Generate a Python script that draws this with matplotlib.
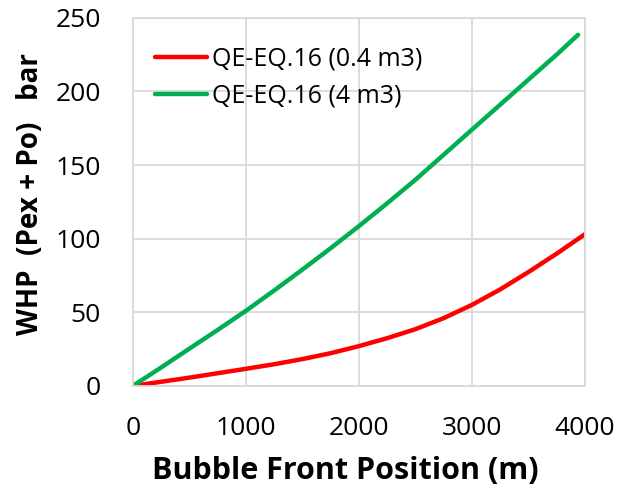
import numpy as np
import matplotlib.pyplot as plt

plt.rcParams['font.family'] = ['Open Sans', 'DejaVu Sans']

# Valores
x_red = [0, 250, 500, 750, 1000, 1250, 1500, 1750, 2000, 2250, 2500, 2750,
         3000, 3250, 3500, 3750, 4000]
y_red = [0, 2.8, 5.6, 8.6, 11.6, 14.7, 18.2, 22.2, 27, 32.4, 38.5, 46,
         55, 65.5, 77.3, 89.8, 103]
x_green = [0, 250, 500, 750, 1000, 1250, 1500, 1750, 2000, 2250, 2500, 2750,
           3000, 3250, 3500, 3750, 3940]
y_green = [0, 12.5, 25.3, 38, 51, 64.8, 79, 93.5, 108.5, 124, 140, 157,
           174, 191, 208, 225, 238.5]

xticks = [0, 1000, 2000, 3000, 4000]
yticks = [0, 50, 100, 150, 200, 250]

fig = plt.figure(figsize=(6.42, 4.96), dpi=100)
ax = fig.add_axes([0.207, 0.222, 0.704, 0.742])

ax.plot(x_red, y_red, color='#ff0000', linewidth=3.2, label='QE-EQ.16 (0.4 m3)',
        solid_capstyle='round')
ax.plot(x_green, y_green, color='#00b050', linewidth=3.2, label='QE-EQ.16 (4 m3)',
        solid_capstyle='round')

ax.set_xlim(0, 4000)
ax.set_ylim(0, 250)
ax.set_xticks(xticks)
ax.set_yticks(yticks)
ax.grid(True, color='#d9d9d9', linewidth=1.3)
ax.set_axisbelow(True)
for s in ax.spines.values():
    s.set_color('#d9d9d9')
    s.set_linewidth(1.3)
ax.tick_params(length=0, labelsize=19)
ax.tick_params(axis='y', pad=23)
ax.tick_params(axis='x', pad=22)

ax.set_xlabel('Bubble Front Position (m)', fontsize=22, fontweight='bold', labelpad=8)
ax.set_ylabel('WHP  (Pex + Po)   bar', fontsize=20, fontweight='bold')
ax.xaxis.set_label_coords(0.47, -0.19)
ax.yaxis.set_label_coords(-0.195, 0.52)

ax.legend(loc='upper left', frameon=False, fontsize=18, handlelength=2.1,
          handletextpad=0.2, borderaxespad=0.3, labelspacing=0.5,
          bbox_to_anchor=(0.01, 0.97))

plt.savefig('out.png', dpi=100)
